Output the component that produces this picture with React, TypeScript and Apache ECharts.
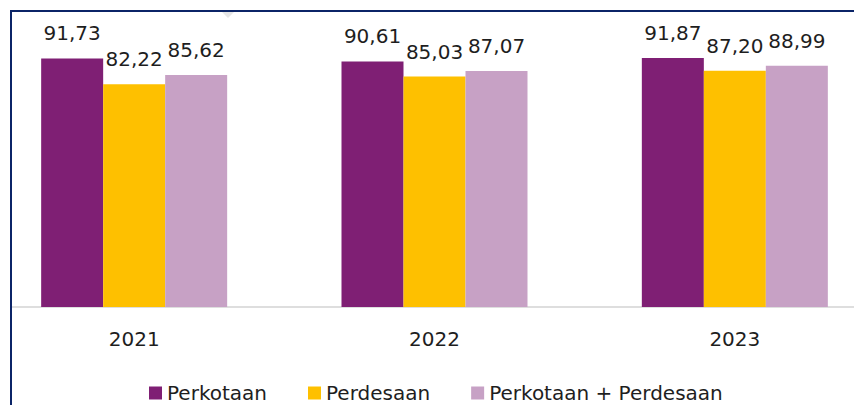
import React, { useEffect, useRef } from "react";
import * as echarts from "echarts";

const categories = ["2021", "2022", "2023"];
const perkotaan = [91.73, 90.61, 91.87];
const perdesaan = [82.22, 85.03, 87.2];
const gabungan = [85.62, 87.07, 88.99];
const seriesNames = ["Perkotaan", "Perdesaan", "Perkotaan + Perdesaan"];
const colors = ["#7f1f74", "#fec000", "#c7a1c5"];

const FONT = "DejaVu Sans";
const OFF = 16; // chart canvas is shifted left by this many pixels
const CHART_W = 901;

export default function App() {
  const ref = useRef<HTMLDivElement>(null);
  useEffect(() => {
    document.body.style.margin = "0";
    const chart = echarts.init(ref.current!, null, { renderer: "svg" });
    const fmt = (p: any) => p.value.toFixed(2).replace(".", ",");
    const mk = (name: string, data: number[], color: string) => ({
      name,
      type: "bar",
      data,
      barWidth: 62,
      barGap: "0%",
      itemStyle: { color },
      label: {
        show: true,
        position: "top",
        distance: 15,
        formatter: fmt,
        color: "#1e1e1e",
        fontFamily: FONT,
        fontSize: 20,
      },
    });
    chart.setOption({
      animation: false,
      backgroundColor: "#fff",
      grid: { left: 0, right: 0, top: 36, bottom: 98 },
      legend: {
        data: seriesNames,
        left: 144 + OFF,
        top: 378,
        itemWidth: 13,
        itemHeight: 13,
        itemGap: 41,
        icon: "rect",
        textStyle: { fontFamily: FONT, fontSize: 20, color: "#1e1e1e" },
      },
      xAxis: {
        type: "category",
        data: categories,
        axisLine: { show: true, lineStyle: { color: "#dedede", width: 2 } },
        axisTick: { show: false },
        axisLabel: { margin: 22, color: "#1e1e1e", fontFamily: FONT, fontSize: 20 },
      },
      yAxis: {
        type: "value",
        min: 0,
        max: 100,
        show: false,
        splitLine: { show: false },
      },
      series: [
        mk(seriesNames[0], perkotaan, colors[0]),
        mk(seriesNames[1], perdesaan, colors[1]),
        mk(seriesNames[2], gabungan, colors[2]),
      ],
      graphic: [
        { type: "rect", z: 100, shape: { x: 0, y: 0, width: 10 + OFF, height: 405 }, style: { fill: "#fff" } },
        { type: "rect", z: 101, shape: { x: 10 + OFF, y: 10, width: 880, height: 2 }, style: { fill: "#0b2467" } },
        { type: "rect", z: 101, shape: { x: 10 + OFF, y: 10, width: 2, height: 395 }, style: { fill: "#0b2467" } },
        {
          type: "polygon",
          z: 100,
          shape: { points: [[222 + OFF, 12], [234 + OFF, 12], [228 + OFF, 18]] },
          style: { fill: "#e6e6e6" },
        },
      ],
    });
    return () => chart.dispose();
  }, []);
  return (
    <div style={{ width: 854, height: 405, overflow: "hidden", position: "relative" }}>
      <div ref={ref} style={{ position: "absolute", left: -OFF, top: 0, width: CHART_W, height: 405 }} />
    </div>
  );
}
